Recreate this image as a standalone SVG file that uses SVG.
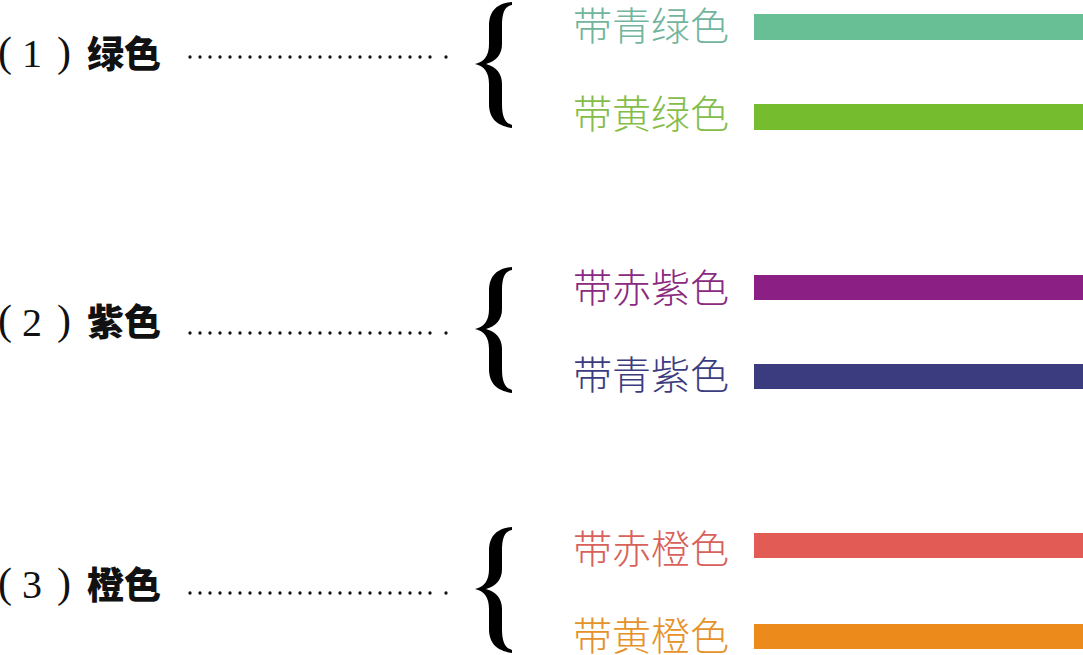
<svg xmlns="http://www.w3.org/2000/svg" width="1083" height="655" viewBox="0 0 1083 655">
<style>
.lab{font-family:"Noto Sans CJK SC","Noto Sans CJK JP",sans-serif;font-weight:900;font-size:37px;fill:#111}
.num{font-family:"Liberation Serif","Times New Roman",serif;font-size:40px;fill:#111}
.par{font-family:"Liberation Serif","Times New Roman",serif;font-size:42px;fill:#111}
.sub{font-family:"Noto Sans CJK SC","Noto Sans CJK JP",sans-serif;font-weight:300;font-size:39px}
.dots{stroke:#111;stroke-width:3.3;stroke-linecap:round;stroke-dasharray:0 10;fill:none}
.brace{fill:#000}
</style>
<defs>
<path id="brace" d="M512,2 C499,3 489,9 489,26 L489,44 C489,56 484,62 475,64 C484,66 489,72 489,84 L489,104 C489,120 499,126 512,128 L512,125 C505,123 502,117 502,104 L502,84 C502,73 496,67 486,64 C496,61 502,55 502,44 L502,26 C502,12 505,6 512,5 Z"/>
</defs>
<rect width="1083" height="655" fill="#fff"/>

<g id="connectors">
  <line class="dots" x1="190" y1="57" x2="440" y2="57"/>
  <line class="dots" x1="446" y1="57" x2="446" y2="57"/>
  <line class="dots" x1="190" y1="333" x2="440" y2="333"/>
  <line class="dots" x1="446" y1="333" x2="446" y2="333"/>
  <line class="dots" x1="190" y1="593" x2="440" y2="593"/>
  <line class="dots" x1="446" y1="593" x2="446" y2="593"/>
  <use href="#brace" class="brace"/>
  <use href="#brace" class="brace" transform="translate(0,265)"/>
  <use href="#brace" class="brace" transform="translate(0,525)"/>
</g>

<g id="green">
  <text class="par" x="-2" y="66">(</text>
  <text class="num" x="22" y="67">1</text>
  <text class="par" x="57" y="66">)</text>
  <text class="lab" x="87" y="68">绿色</text>
</g>
<g id="green-cyan">
  <text class="sub" x="573" y="40" fill="#72b59c">带青绿色</text>
  <rect x="754" y="14" width="329" height="26" fill="#68bf96"/>
</g>
<g id="green-yellow">
  <text class="sub" x="573" y="128" fill="#84bd48">带黄绿色</text>
  <rect x="754" y="104" width="329" height="26" fill="#75bd2f"/>
</g>

<g id="purple">
  <text class="par" x="-2" y="334">(</text>
  <text class="num" x="22" y="336">2</text>
  <text class="par" x="57" y="334">)</text>
  <text class="lab" x="87" y="336">紫色</text>
</g>
<g id="purple-red">
  <text class="sub" x="573" y="302" fill="#8a2a80">带赤紫色</text>
  <rect x="754" y="275" width="329" height="25" fill="#8c1f84"/>
</g>
<g id="purple-cyan">
  <text class="sub" x="573" y="389" fill="#3c3d7e">带青紫色</text>
  <rect x="754" y="364" width="329" height="25" fill="#3b3c7f"/>
</g>

<g id="orange">
  <text class="par" x="-2" y="597">(</text>
  <text class="num" x="22" y="598">3</text>
  <text class="par" x="57" y="597">)</text>
  <text class="lab" x="87" y="599">橙色</text>
</g>
<g id="orange-red">
  <text class="sub" x="573" y="563" fill="#d9615b">带赤橙色</text>
  <rect x="754" y="533" width="329" height="25" fill="#e25c55"/>
</g>
<g id="orange-yellow">
  <text class="sub" x="573" y="650" fill="#e5922a">带黄橙色</text>
  <rect x="754" y="624" width="329" height="25" fill="#ed8a1c"/>
</g>
</svg>
